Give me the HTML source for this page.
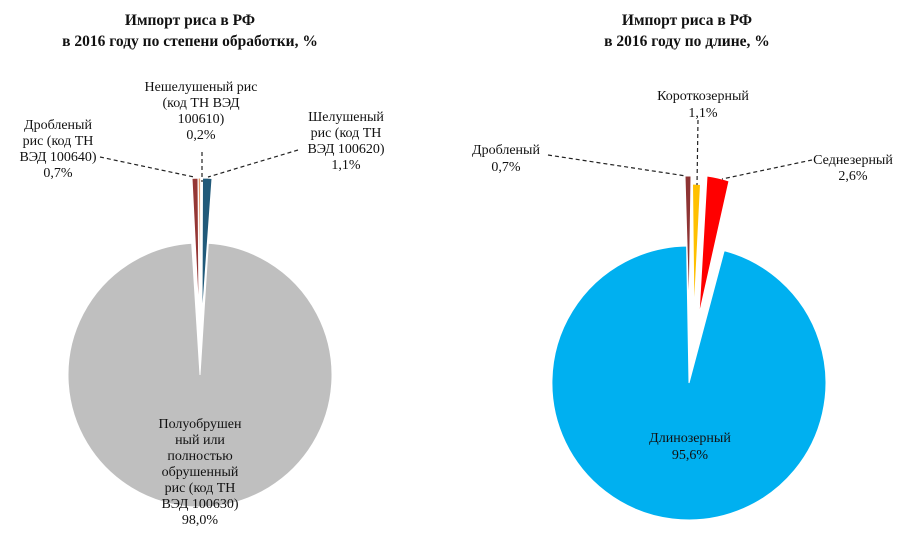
<!DOCTYPE html>
<html><head><meta charset="utf-8"><style>
body{margin:0;background:#fff}
svg text{font-family:"Liberation Serif","DejaVu Serif",serif;font-size:14px;fill:#111;text-anchor:middle}
.t{font-weight:bold;font-size:15.5px}
.l{stroke:#222;stroke-width:1.2;stroke-dasharray:4,3;fill:none}
</style></head><body>
<svg width="918" height="547" xmlns="http://www.w3.org/2000/svg">
<text class="t" x="190" y="25">Импорт риса  в РФ</text>
<text class="t" x="190" y="46">в 2016 году по степени обработки, %</text>
<text class="t" x="687" y="25">Импорт риса  в РФ</text>
<text class="t" x="687" y="46">в 2016 году по длине, %</text>

<g stroke="#fff" stroke-width="1">
<path d="M200,375 L208.3,243.3 A132,132 0 1 1 191.7,243.3 Z" fill="#bfbfbf"/>
<path d="M199,318 L192,178.4 A132,132 0 0 1 198,178.1 Z" fill="#953735"/>
<path d="M200.5,318 L198.2,178 A132,132 0 0 1 200.6,178 Z" fill="#e39b6a"/>
<path d="M202,318 L202.5,178 A132,132 0 0 1 212,178.5 Z" fill="#215a7a"/>

<path d="M689,383 L724.2,250.6 A137,137 0 1 1 686.6,246 Z" fill="#00b0f0"/>
<path d="M689,313 L685,176 A137,137 0 0 1 691,176 Z" fill="#8e3434"/>
<path d="M694,313 L692.5,184 A137,137 0 0 1 700.5,184.5 Z" fill="#ffc000"/>
<path d="M699,315 L707,176 A137,137 0 0 1 729,181 Z" fill="#ff0000"/>
</g>

<path class="l" d="M100,157 L194,177"/>
<path class="l" d="M202,152 L202,182"/>
<path class="l" d="M298,150 L208,177"/>
<path class="l" d="M548,155 L686,176"/>
<path class="l" d="M698,120 L697,185"/>
<path class="l" d="M812,160 L722,179"/>

<text x="58" y="129">Дробленый</text>
<text x="58" y="145">рис (код ТН</text>
<text x="58" y="161">ВЭД  100640)</text>
<text x="58" y="177">0,7%</text>

<text x="201" y="91">Нешелушеный  рис</text>
<text x="201" y="107">(код ТН ВЭД</text>
<text x="201" y="123">100610)</text>
<text x="201" y="139">0,2%</text>

<text x="346" y="121">Шелушеный</text>
<text x="346" y="137">рис (код ТН</text>
<text x="346" y="153">ВЭД  100620)</text>
<text x="346" y="169">1,1%</text>

<text x="200" y="428">Полуобрушен</text>
<text x="200" y="444">ный или</text>
<text x="200" y="460">полностью</text>
<text x="200" y="476">обрушенный</text>
<text x="200" y="492">рис (код ТН</text>
<text x="200" y="508">ВЭД  100630)</text>
<text x="200" y="524">98,0%</text>

<text x="506" y="154">Дробленый</text>
<text x="506" y="171">0,7%</text>
<text x="703" y="100">Короткозерный</text>
<text x="703" y="117">1,1%</text>
<text x="853" y="164">Седнезерный</text>
<text x="853" y="180">2,6%</text>
<text x="690" y="442">Длинозерный</text>
<text x="690" y="459">95,6%</text>
</svg>
</body></html>
